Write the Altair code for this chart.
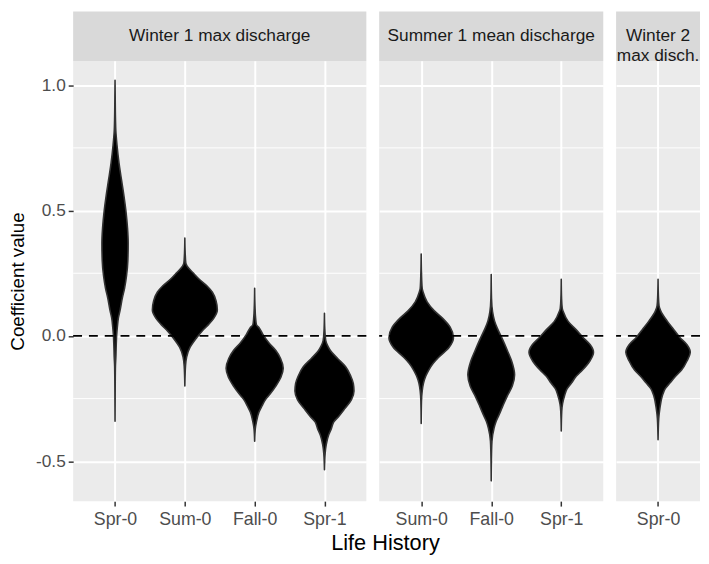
import altair as alt
import pandas as pd

# ---------------- data ----------------
panel_titles = ["Winter 1 max discharge", "Summer 1 mean discharge", "Winter 2\nmax disch."]
panel_categories = [
    ["Spr-0", "Sum-0", "Fall-0", "Spr-1"],
    ["Sum-0", "Fall-0", "Spr-1"],
    ["Spr-0"],
]

# violin outlines: coefficient values and relative density (1 = widest violin)
w1_spr0_values = [1.02, 0.95, 0.86, 0.82, 0.76, 0.69, 0.62, 0.56, 0.50, 0.43, 0.37, 0.30, 0.24, 0.19,
                  0.15, 0.10, 0.07, 0.035, 0.005, -0.04, -0.085, -0.12, -0.20, -0.34]
w1_spr0_density = [0.0, 0.005, 0.014, 0.023, 0.06, 0.12, 0.20, 0.27, 0.33, 0.38, 0.40, 0.39, 0.35, 0.29,
                   0.22, 0.15, 0.10, 0.07, 0.05, 0.035, 0.025, 0.012, 0.005, 0.0]

w1_sum0_values = [0.39, 0.33, 0.29, 0.278, 0.252, 0.226, 0.20, 0.174, 0.14, 0.103, 0.07, 0.045, 0.02,
                  -0.007, -0.045, -0.084, -0.12, -0.20]
w1_sum0_density = [0.0, 0.01, 0.03, 0.07, 0.25, 0.44, 0.67, 0.84, 0.95, 0.99, 0.88, 0.72, 0.53,
                   0.36, 0.16, 0.054, 0.02, 0.0]

w1_fall0_values = [0.19, 0.12, 0.07, 0.045, 0.032, 0.006, -0.03, -0.058, -0.09, -0.129, -0.165, -0.20,
                   -0.23, -0.252, -0.28, -0.304, -0.343, -0.37, -0.42]
w1_fall0_density = [0.0, 0.01, 0.03, 0.054, 0.14, 0.25, 0.45, 0.645, 0.79, 0.87, 0.80, 0.645,
                    0.48, 0.34, 0.22, 0.13, 0.054, 0.02, 0.0]

w1_spr1_values = [0.09, 0.03, -0.019, -0.04, -0.058, -0.09, -0.123, -0.16, -0.19, -0.22, -0.255, -0.29,
                  -0.32, -0.343, -0.37, -0.394, -0.433, -0.47, -0.534]
w1_spr1_density = [0.0, 0.01, 0.04, 0.10, 0.18, 0.40, 0.645, 0.80, 0.88, 0.90, 0.82, 0.62,
                   0.44, 0.285, 0.21, 0.13, 0.054, 0.02, 0.0]

s1_sum0_values = [0.327, 0.25, 0.19, 0.174, 0.136, 0.10, 0.071, 0.035, -0.007, -0.045, -0.084, -0.11,
                  -0.136, -0.16, -0.188, -0.22, -0.26, -0.349]
s1_sum0_density = [0.0, 0.01, 0.03, 0.06, 0.18, 0.40, 0.645, 0.88, 0.98, 0.85, 0.54, 0.36,
                   0.23, 0.14, 0.07, 0.03, 0.01, 0.0]

s1_fall0_values = [0.245, 0.15, 0.097, 0.06, 0.032, -0.01, -0.058, -0.10, -0.155, -0.20, -0.239, -0.28,
                   -0.317, -0.34, -0.368, -0.42, -0.47, -0.578]
s1_fall0_density = [0.0, 0.01, 0.04, 0.10, 0.18, 0.33, 0.49, 0.62, 0.71, 0.64, 0.49, 0.35,
                    0.23, 0.15, 0.085, 0.023, 0.01, 0.0]

s1_spr1_values = [0.226, 0.15, 0.11, 0.097, 0.058, 0.025, -0.007, -0.035, -0.065, -0.10, -0.136, -0.16,
                  -0.188, -0.21, -0.239, -0.27, -0.30, -0.379]
s1_spr1_density = [0.0, 0.01, 0.03, 0.06, 0.21, 0.45, 0.67, 0.88, 0.98, 0.87, 0.645, 0.46,
                   0.31, 0.18, 0.10, 0.04, 0.015, 0.0]

w2_spr0_values = [0.226, 0.16, 0.12, 0.10, 0.058, 0.025, -0.007, -0.035, -0.065, -0.10, -0.136, -0.16,
                  -0.188, -0.21, -0.239, -0.29, -0.33, -0.414]
w2_spr0_density = [0.0, 0.01, 0.03, 0.08, 0.285, 0.48, 0.67, 0.88, 0.98, 0.88, 0.715, 0.54,
                   0.36, 0.22, 0.13, 0.054, 0.02, 0.0]

panel_profiles = [
    [(w1_spr0_values, w1_spr0_density), (w1_sum0_values, w1_sum0_density),
     (w1_fall0_values, w1_fall0_density), (w1_spr1_values, w1_spr1_density)],
    [(s1_sum0_values, s1_sum0_density), (s1_fall0_values, s1_fall0_density),
     (s1_spr1_values, s1_spr1_density)],
    [(w2_spr0_values, w2_spr0_density)],
]

major_breaks = [-0.5, 0.0, 0.5, 1.0]
minor_breaks = [-0.25, 0.25, 0.75]
reference_line = [0.0]
y_limits = [-0.659, 1.097]

# ---------------- layout / style ----------------
FONT = "Liberation Sans"
PANEL_WIDTHS = [297, 227, 85]
PLOT_H = 446
STRIP_H = 50
MAX_HALF = 0.47  # half-width (category units) of a density of 1


def y_enc(show_axis):
    if show_axis:
        ax = alt.Axis(values=major_breaks,
                      labelExpr="datum.value < 0 ? '-' + format(abs(datum.value), '.1f') : format(datum.value, '.1f')",
                      title="Coefficient value", titleFontSize=19, titleFontWeight="normal",
                      titleColor="black", titlePadding=8,
                      labelFontSize=17.5, labelColor="#4D4D4D", labelPadding=3,
                      tickColor="#333333", tickSize=5, tickWidth=1.5,
                      domain=False, grid=True, gridColor="white", gridWidth=2)
    else:
        ax = alt.Axis(values=major_breaks, labels=False, ticks=False, domain=False, title=None,
                      grid=True, gridColor="white", gridWidth=2)
    return alt.Y("value:Q", scale=alt.Scale(domain=y_limits, nice=False, zero=False), axis=ax)


panels = []
for p, (title, cats, profiles) in enumerate(zip(panel_titles, panel_categories, panel_profiles)):
    rows = []
    for i, (vals, dens) in enumerate(profiles):
        for v, d in zip(vals, dens):
            rows.append({"cat": cats[i], "idx": i + 1, "value": v, "density": d})
    df = pd.DataFrame(rows)
    n = len(cats)
    w = PANEL_WIDTHS[p]
    label_array = "[" + ",".join("'" + c + "'" for c in cats) + "]"
    xaxis = alt.Axis(values=list(range(1, n + 1)), labelExpr=label_array + "[datum.value - 1]",
                     title=None, labelFontSize=18, labelColor="#4D4D4D", labelPadding=5,
                     tickColor="#333333", tickSize=5, tickWidth=1.5, domain=False,
                     grid=True, gridColor="white", gridWidth=2, labelFlush=False)

    violins = alt.Chart(df).transform_calculate(
        lo=f"datum.idx - datum.density * {MAX_HALF}",
        hi=f"datum.idx + datum.density * {MAX_HALF}",
    ).mark_area(orient="horizontal", fill="black", stroke="#333333", strokeWidth=1.6,
                fillOpacity=1, strokeJoin="round", interpolate="monotone").encode(
        y=y_enc(p == 0),
        x=alt.X("lo:Q", scale=alt.Scale(domain=[0.4, n + 0.6], nice=False, zero=False), axis=xaxis),
        x2="hi:Q",
        detail="cat:N",
    )

    minor = alt.Chart(pd.DataFrame({"value": minor_breaks})).mark_rule(
        color="white", strokeWidth=1).encode(y=y_enc(p == 0))

    hline = alt.Chart(pd.DataFrame({"value": reference_line})).mark_rule(
        color="black", strokeWidth=1.8, strokeDash=[9, 7]).encode(y=y_enc(p == 0))

    strip_df = pd.DataFrame({"label": [title]})
    strip_bg = alt.Chart(strip_df).mark_rect(color="#D9D9D9").encode(
        x=alt.value(0), x2=alt.value(w), y=alt.value(-STRIP_H), y2=alt.value(0))
    strip_txt = alt.Chart(strip_df).mark_text(
        font=FONT, fontSize=17.5, color="#1A1A1A", lineBreak="\n", lineHeight=20,
        align="center", baseline="middle").encode(
        x=alt.value(w / 2), y=alt.value(-STRIP_H / 2), text="label:N")

    panel = alt.layer(minor, violins, hline, strip_bg, strip_txt).properties(width=w, height=PLOT_H)
    panels.append(panel)

chart = alt.hconcat(*panels, spacing=11).properties(
    title=alt.TitleParams("Life History", orient="bottom", anchor="middle", fontSize=22,
                          fontWeight="normal", color="black", font=FONT, dx=31, offset=4),
    padding=0,
).configure(font=FONT, background="white").configure_view(fill="#EBEBEB", stroke=None)

chart.save("out.html", embed_options={"renderer": "svg", "actions": False})
